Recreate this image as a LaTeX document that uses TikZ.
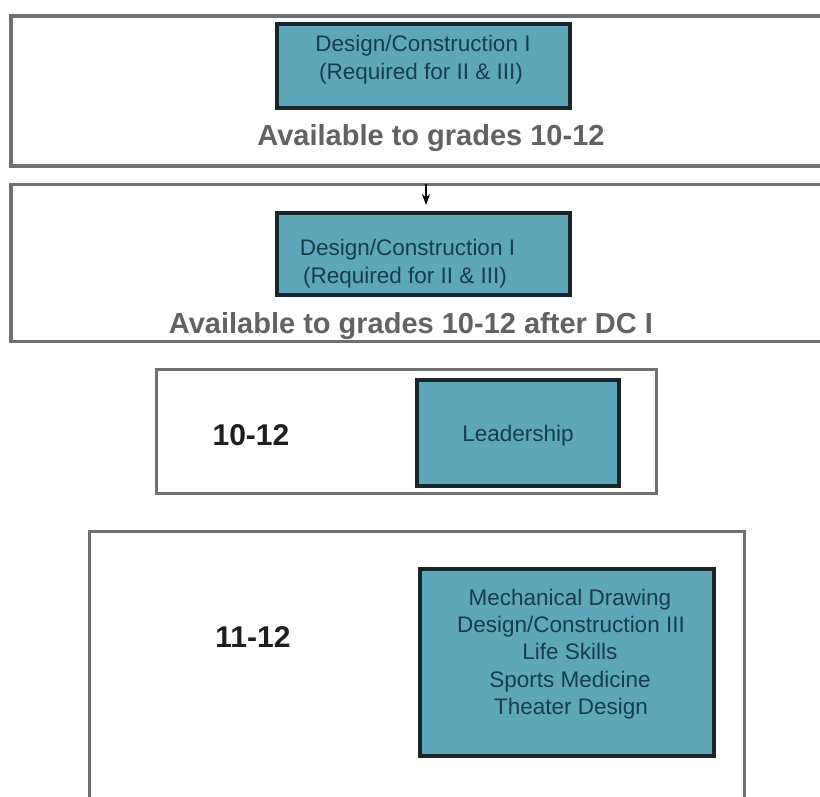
\documentclass[tikz,border=0pt]{standalone}
\usepackage{fontspec}
\setmainfont{Liberation Sans}
\usetikzlibrary{arrows.meta}
\definecolor{outerline}{RGB}{112,112,112}
\definecolor{tealfill}{RGB}{94,167,187}
\definecolor{tealborder}{RGB}{24,38,44}
\definecolor{tealtext}{RGB}{22,60,78}
\definecolor{availtext}{RGB}{98,98,98}
\definecolor{gradetext}{RGB}{30,30,30}
\tikzset{
  outerbox/.style={draw=outerline, line width=3.5pt, fill=white, rectangle, inner sep=0pt},
  tealbox/.style={draw=tealborder, line width=4pt, fill=tealfill, rectangle, inner sep=0pt},
  coursetext/.style={anchor=base, inner sep=0pt, text=tealtext, font=\fontsize{22.5}{27}\selectfont},
  availlabel/.style={anchor=base, inner sep=0pt, text=availtext, font=\fontsize{29}{34}\selectfont\bfseries},
  gradelabel/.style={anchor=base, inner sep=0pt, text=gradetext, font=\fontsize{30}{35}\selectfont\bfseries},
  arrowline/.style={draw=black, line width=1.5pt, -{Stealth[length=11pt,width=8pt]}}
}
\begin{document}
\begin{tikzpicture}[x=1pt,y=-1pt]
\useasboundingbox (0,0) rectangle (820,797);
\clip (0,0) rectangle (820,797);
\fill[white] (0,0) rectangle (820,797);

% box 1
\node[outerbox, minimum width=824pt, minimum height=150pt] (box1) at (423,91) {};
\node[tealbox, minimum width=293pt, minimum height=84pt] (teal1) at (423.5,66) {};
\node[coursetext] (t1a) at (423,52) {Design/Construction I};
\node[coursetext] (t1b) at (421,80) {(Required for II \& III)};
\node[availlabel] (avail1) at (431,146) {Available to grades 10-12};

% box 2
\node[outerbox, minimum width=824pt, minimum height=157pt] (box2) at (423,263) {};
\node[tealbox, minimum width=293pt, minimum height=82pt] (teal2) at (423.5,254) {};
\node[coursetext] (t2a) at (407.5,255) {Design/Construction I};
\node[coursetext] (t2b) at (405,283) {(Required for II \& III)};
\node[availlabel] (avail2) at (411,333) {Available to grades 10-12 after DC I};

% arrow
\coordinate (arrstart) at (426,184.5);
\draw[arrowline, shorten >=6pt] (arrstart) -- (arrstart |- teal2.north);

% box 3
\node[outerbox, minimum width=500pt, minimum height=124pt] (box3) at (406.5,431.5) {};
\node[tealbox, minimum width=202pt, minimum height=106pt] (teal3) at (518,433) {};
\node[gradelabel] (g3) at (251,445) {10-12};
\node[coursetext] (t3) at (518,441) {Leadership};

% box 4
\node[outerbox, minimum width=655pt, minimum height=318pt] (box4) at (417,690.5) {};
\node[tealbox, minimum width=294pt, minimum height=187pt] (teal4) at (567,662.5) {};
\node[gradelabel] (g4) at (253,647) {11-12};
\node[coursetext] (t4a) at (570,605) {Mechanical Drawing};
\node[coursetext] (t4b) at (571,632) {Design/Construction III};
\node[coursetext] (t4c) at (570,659) {Life Skills};
\node[coursetext] (t4d) at (570,687) {Sports Medicine};
\node[coursetext] (t4e) at (571,714) {Theater Design};
\end{tikzpicture}
\end{document}
